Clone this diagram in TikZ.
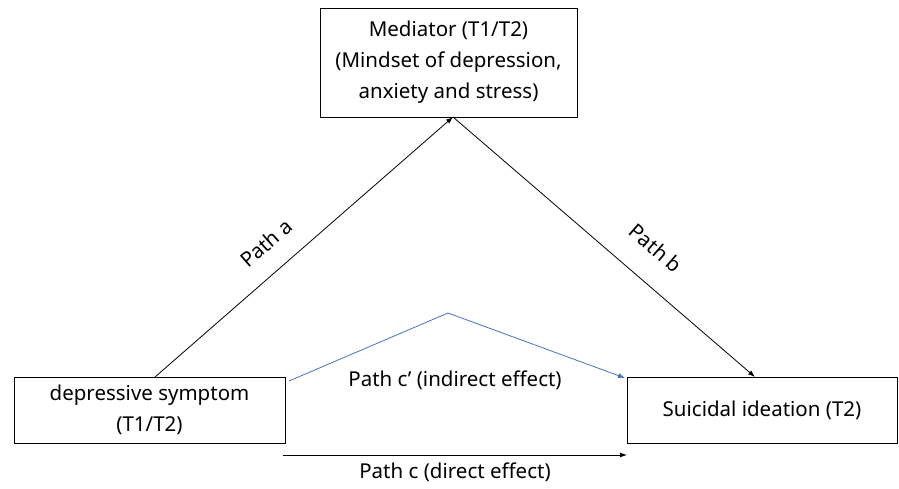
\documentclass[tikz,border=0pt]{standalone}
\usepackage{fontspec}
\setmainfont{Noto Sans}
\usetikzlibrary{arrows.meta}
\definecolor{pathblue}{RGB}{68,114,196}
\tikzset{
  box/.style={draw, line width=0.8pt, align=center, font=\fontsize{20.5}{31}\selectfont, inner sep=0pt},
  conn/.style={line width=0.8pt, -{Latex[length=7pt,width=5pt]}},
  lbl/.style={font=\fontsize{20.5}{24}\selectfont, inner sep=1pt}
}
\begin{document}
\begin{tikzpicture}[x=1pt,y=-1pt]
\useasboundingbox (0,0) rectangle (899,488);
\node[box, minimum width=257pt, minimum height=109pt] (med) at (448.5,62.5) {Mediator (T1/T2)\\(Mindset of depression,\\anxiety and stress)};
\node[box, minimum width=271pt, minimum height=66pt] (dep) at (149.5,410) {depressive symptom\\(T1/T2)};
\node[box, minimum width=270pt, minimum height=66pt] (sui) at (762,410) {Suicidal ideation (T2)};
\coordinate (aS) at (155,377);
\coordinate (aE) at (453,117);
\coordinate (bE) at (755,377);
\coordinate (cS) at (289,381);
\coordinate (cM) at (448,313);
\coordinate (cE) at (625,378);
\coordinate (dS) at (283,455);
\coordinate (dE) at (627,455);
\draw[conn] (aS) -- (aE);
\draw[conn] (aE) -- (bE);
\node[lbl, rotate=41] (la) at (266,243) {Path a};
\node[lbl, rotate=-41] (lb) at (656,248) {Path b};
\draw[conn, pathblue] (cS) -- (cM) -- (cE);
\node[lbl] (lc1) at (455,380) {Path c’ (indirect effect)};
\draw[conn] (dS) -- (dE);
\node[lbl] (lc) at (455,472) {Path c (direct effect)};
\end{tikzpicture}
\end{document}
